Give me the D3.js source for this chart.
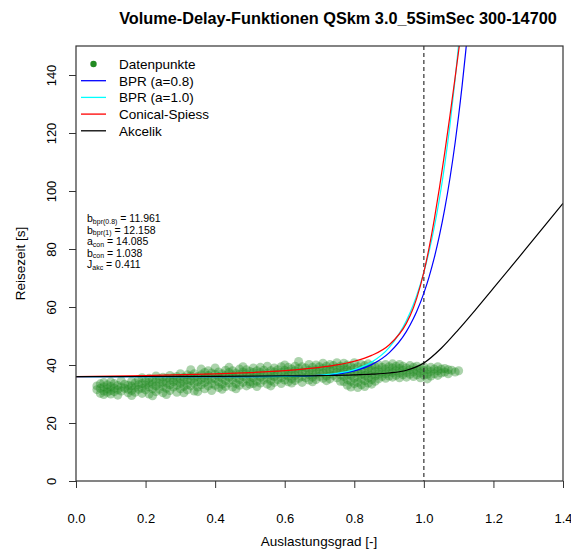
<!DOCTYPE html>
<html>
<head>
<meta charset="utf-8">
<script src="https://cdn.jsdelivr.net/npm/d3@7"></script>
<style>
    body { margin: 0; background: #fff; }
    text { font-family: "Liberation Sans", Arial, sans-serif; }
</style>
</head>
<body>
<div id="vdf-chart"></div>
<script>
// curve values (travel time in s)
const curveX = [0, 0.2, 0.4, 0.5, 0.6, 0.7, 0.75, 0.8, 0.85, 0.9, 0.95, 0.97, 0.98, 1.0,
    1.015, 1.03, 1.045, 1.06, 1.075, 1.09, 1.10, 1.105, 1.11, 1.12, 1.125];
const bpr08Values = [36.0, 36.0, 36.0, 36.01, 36.06, 36.4, 36.92, 38.0, 40.12, 44.17, 51.59, 56.01, 58.62, 64.8,
    70.41, 77.01, 84.76, 93.82, 104.4, 116.73, 126.05, 131.07, 136.35, 147.71, 153.82];
const bpr10Values = [36.0, 36.0, 36.0, 36.01, 36.07, 36.47, 37.09, 38.39, 40.99, 46.0, 55.3, 60.86, 64.16, 72.0,
    79.14, 87.57, 97.48, 109.11, 122.73, 138.64, 150.7, 157.2, 164.0, 178.8, 186.7];
const conicalValues = [36.01, 36.35, 36.92, 37.37, 38.04, 39.15, 40.02, 41.3, 43.32, 46.91, 54.44, 59.77, 63.21, 72.0,
    80.37, 90.19, 101.23, 113.24, 125.98, 139.25, 148.33, 152.92, 157.5, 166.9, 171.6];

const akcelikX = [0, 0.2, 0.4, 0.6, 0.7, 0.8, 0.85, 0.9, 0.95, 1.0, 1.05, 1.1, 1.15, 1.2, 1.25, 1.3, 1.35, 1.4];
const akcelikValues = [36.0, 36.04, 36.1, 36.22, 36.35, 36.58, 36.82, 37.24, 38.19, 40.7, 45.77, 52.29, 59.29,
    66.47, 73.73, 81.04, 88.37, 95.72];

// measured points, one column per load degree
const cloudX = [0.06, 0.07, 0.08, 0.09, 0.10, 0.11, 0.12, 0.13, 0.14, 0.15, 0.16, 0.17, 0.18, 0.19, 0.20,
    0.21, 0.22, 0.23, 0.24, 0.25, 0.26, 0.27, 0.28, 0.29, 0.30, 0.31, 0.32, 0.33, 0.34, 0.35, 0.36, 0.37,
    0.38, 0.39, 0.40, 0.41, 0.42, 0.43, 0.44, 0.45, 0.46, 0.47, 0.48, 0.49, 0.50, 0.51, 0.52, 0.53, 0.54,
    0.55, 0.56, 0.57, 0.58, 0.59, 0.60, 0.61, 0.62, 0.63, 0.64, 0.65, 0.66, 0.67, 0.68, 0.69, 0.70, 0.71,
    0.72, 0.73, 0.74, 0.75, 0.76, 0.77, 0.78, 0.79, 0.80, 0.81, 0.82, 0.83, 0.84, 0.85, 0.86, 0.87, 0.88,
    0.89, 0.90, 0.91, 0.92, 0.93, 0.94, 0.95, 0.96, 0.97, 0.98, 0.99, 1.00, 1.01, 1.02, 1.03, 1.04, 1.05,
    1.06, 1.07, 1.08, 1.09, 1.10];
const cloudY = [
    [31.5, 32.8], [30.2, 32.0, 33.5], [31.0, 32.5, 34.0, 29.8], [30.6, 31.8, 33.2], [31.2, 32.6, 34.2, 30.0],
    [30.8, 32.0, 33.6], [31.5, 32.9, 29.6], [31.0, 32.4, 34.6], [32.0, 33.4], [30.4, 31.6, 33.0],
    [31.2, 32.8, 34.4, 29.5], [30.6, 32.2, 33.8], [31.6, 33.2, 35.0], [30.2, 32.0, 33.6, 35.6], [31.4, 33.0, 34.4],
    [30.0, 32.4, 34.0, 35.4], [31.8, 33.4, 35.0, 29.4], [30.8, 32.8, 34.4, 36.2], [31.6, 33.6, 35.2],
    [30.4, 32.6, 34.2, 35.8], [32.0, 33.8, 35.4, 29.8], [31.2, 33.2, 34.8, 36.4], [32.4, 34.2, 35.6],
    [30.6, 33.0, 34.6, 36.0], [31.8, 33.6, 35.2, 37.0], [32.6, 34.4, 35.8, 30.4], [31.4, 33.2, 35.0, 36.6],
    [32.8, 34.6, 36.2, 38.4], [31.0, 33.8, 35.4, 37.0], [32.4, 34.2, 36.0, 30.8], [33.2, 35.0, 36.6, 38.6],
    [31.8, 34.0, 35.6, 37.4], [32.8, 34.8, 36.4, 38.0], [31.2, 33.6, 35.4, 37.2], [33.0, 35.2, 36.8, 39.0],
    [32.2, 34.2, 36.0, 37.6], [33.4, 35.4, 37.0, 31.6], [32.6, 34.6, 36.4, 38.2], [33.8, 35.8, 37.4, 39.2],
    [32.4, 34.8, 36.6, 38.0], [33.6, 35.6, 37.2, 31.8], [33.0, 35.0, 36.8, 38.6], [34.0, 36.0, 37.6, 39.4],
    [32.8, 35.2, 37.0, 38.4], [34.2, 36.2, 37.8, 33.4], [33.6, 35.6, 37.4, 39.0], [34.4, 36.4, 38.0, 32.6],
    [33.8, 35.8, 37.4, 39.2], [34.8, 36.6, 38.2], [33.4, 35.4, 37.2, 39.6], [34.6, 36.4, 38.0, 32.8],
    [34.0, 36.0, 37.6, 39.0], [35.0, 36.8, 38.4], [33.6, 35.6, 37.4, 39.4], [34.8, 36.6, 38.2, 40.0],
    [34.2, 36.2, 37.8, 39.2], [35.2, 37.0, 38.6, 33.8], [34.6, 36.4, 38.0, 39.6], [35.4, 37.2, 38.8, 41.2],
    [34.0, 36.0, 37.6, 39.4], [35.6, 37.4, 39.0], [34.8, 36.6, 38.2, 40.2], [35.8, 37.6, 39.2, 34.2],
    [35.0, 36.8, 38.4, 40.0], [36.0, 37.8, 39.4], [35.4, 37.2, 38.8, 40.6], [36.2, 38.0, 39.6, 34.6],
    [35.2, 37.0, 38.6, 40.2], [36.4, 38.2, 39.8], [35.6, 37.4, 39.0, 40.8], [36.6, 38.2, 39.6, 34.4],
    [34.2, 36.0, 37.6, 39.2, 40.6], [33.0, 35.0, 36.8, 38.4, 40.0], [32.4, 34.4, 36.4, 38.0, 39.6],
    [33.6, 35.4, 37.2, 38.8, 40.8], [32.2, 34.0, 36.0, 37.6, 39.4], [33.2, 35.2, 36.8, 38.4, 40.2],
    [32.6, 34.6, 36.4, 38.0, 39.8], [33.8, 35.6, 37.2, 38.8, 40.4], [33.4, 35.0, 36.6, 38.2, 39.8],
    [34.4, 36.2, 37.8, 39.4], [35.2, 36.8, 38.4, 40.0], [36.0, 37.6, 39.2], [35.4, 37.0, 38.6, 40.2],
    [36.2, 37.8, 39.4], [35.8, 37.4, 39.0, 40.4], [36.4, 38.0, 39.6], [35.6, 37.2, 38.8, 40.2],
    [36.6, 38.2, 39.6], [35.8, 37.4, 39.0], [36.8, 38.4, 39.8], [36.0, 37.6, 39.2], [36.6, 38.2, 39.6],
    [35.6, 37.2, 38.8], [36.4, 38.0, 39.4], [36.8, 38.4, 35.2], [36.2, 37.8, 39.2], [37.0, 38.6],
    [36.4, 38.0, 39.4], [37.2, 38.6], [37.6, 38.8], [37.0, 38.4], [38.2], [37.6], [38.0]
];

const xTicks = [0, 0.2, 0.4, 0.6, 0.8, 1.0, 1.2, 1.4];
const yTicks = [0, 20, 40, 60, 80, 100, 120, 140];

const legendLabels = ["Datenpunkte", "BPR (a=0.8)", "BPR (a=1.0)", "Conical-Spiess", "Akcelik"];
const legendColors = ["#228b22", "#0000ff", "#00ffff", "#ff0000", "#000000"];

const annotSymbols = ["b", "b", "a", "b", "J"];
const annotSubs = ["bpr(0.8)", "bpr(1)", "con", "con", "akc"];
const annotValues = ["11.961", "12.158", "14.085", "1.038", "0.411"];

const width = 571;
const height = 550;
const plot = { left: 76, right: 563, top: 46, bottom: 481 };

const svg = d3.select("#vdf-chart")
    .append("svg")
        .attr("width", width)
        .attr("height", height);

const x = d3.scaleLinear().domain([0, 1.4]).range([plot.left, plot.right]);
const y = d3.scaleLinear().domain([0, 150]).range([plot.bottom, plot.top]);

svg.append("clipPath")
        .attr("id", "plot-clip")
    .append("rect")
        .attr("x", plot.left)
        .attr("y", plot.top)
        .attr("width", plot.right - plot.left)
        .attr("height", plot.bottom - plot.top);

// scatter cloud
const points = cloudX.flatMap((cx, i) => cloudY[i].map(v => ({ x: cx, y: v })));
svg.append("g")
        .attr("clip-path", "url(#plot-clip)")
    .selectAll("circle")
    .data(points)
    .join("circle")
        .attr("cx", d => x(d.x))
        .attr("cy", d => y(d.y))
        .attr("r", 4.5)
        .attr("fill", "#228b22")
        .attr("fill-opacity", 0.38);

// reference line at saturation
svg.append("line")
    .attr("x1", x(1)).attr("x2", x(1))
    .attr("y1", plot.top).attr("y2", plot.bottom)
    .attr("stroke", "#333")
    .attr("stroke-width", 1.2)
    .attr("stroke-dasharray", "4,3");

// model curves
const line = d3.line()
    .x(d => x(d[0]))
    .y(d => y(d[1]))
    .curve(d3.curveMonotoneX);

const curves = [
    { xs: curveX, ys: bpr08Values, color: legendColors[1] },
    { xs: curveX, ys: bpr10Values, color: legendColors[2] },
    { xs: curveX, ys: conicalValues, color: legendColors[3] },
    { xs: akcelikX, ys: akcelikValues, color: legendColors[4] }
];

svg.append("g")
        .attr("clip-path", "url(#plot-clip)")
    .selectAll("path")
    .data(curves)
    .join("path")
        .attr("d", c => line(c.xs.map((v, i) => [v, c.ys[i]])))
        .attr("fill", "none")
        .attr("stroke", c => c.color)
        .attr("stroke-width", 1.2);

// axes
const xAxis = svg.append("g")
    .attr("transform", `translate(0, ${plot.bottom})`)
    .call(d3.axisBottom(x).tickValues(xTicks).tickSize(7).tickPadding(26).tickFormat(d3.format(".1f")));

const yAxis = svg.append("g")
    .attr("transform", `translate(${plot.left}, 0)`)
    .call(d3.axisLeft(y).tickValues(yTicks).tickSize(7).tickFormat(d3.format("d")));

[xAxis, yAxis].forEach(axis => {
    axis.select(".domain").remove();
    axis.selectAll("line").attr("stroke", "#333");
    axis.selectAll("text")
        .attr("font-size", 13)
        .attr("fill", "#000")
        .style("font-family", "Liberation Sans, Arial, sans-serif");
});

// R style: y labels parallel to the axis
yAxis.selectAll("text")
    .attr("x", 0)
    .attr("y", -20)
    .attr("dy", 0)
    .attr("text-anchor", "middle")
    .attr("transform", "rotate(-90)");

svg.append("rect")
    .attr("x", plot.left)
    .attr("y", plot.top)
    .attr("width", plot.right - plot.left)
    .attr("height", plot.bottom - plot.top)
    .attr("fill", "none")
    .attr("stroke", "#333")
    .attr("stroke-width", 1.2);

// titles
svg.append("text")
    .attr("x", 338)
    .attr("y", 24)
    .attr("text-anchor", "middle")
    .attr("font-weight", "bold")
    .attr("font-size", 16.3)
    .text("Volume-Delay-Funktionen QSkm 3.0_5SimSec 300-14700");

svg.append("text")
    .attr("x", 319)
    .attr("y", 546)
    .attr("text-anchor", "middle")
    .attr("font-size", 13.5)
    .text("Auslastungsgrad [-]");

svg.append("text")
    .attr("transform", `translate(25, ${(plot.top + plot.bottom) / 2}) rotate(-90)`)
    .attr("text-anchor", "middle")
    .attr("font-size", 13.5)
    .text("Reisezeit [s]");

// legend, no frame
const legend = svg.append("g");
const rowHeight = 16.7;
legendLabels.forEach((label, i) => {
    const ly = 64 + i * rowHeight;
    if (i === 0) {
        legend.append("circle")
            .attr("cx", 93.5).attr("cy", ly)
            .attr("r", 3.2)
            .attr("fill", legendColors[i]);
    } else {
        legend.append("line")
            .attr("x1", 81).attr("x2", 106)
            .attr("y1", ly).attr("y2", ly)
            .attr("stroke", legendColors[i])
            .attr("stroke-width", 1.3);
    }
    legend.append("text")
        .attr("x", 119)
        .attr("y", ly + 5)
        .attr("font-size", 13.5)
        .text(label);
});

// fitted parameters
const annot = svg.append("g");
annotSymbols.forEach((sym, i) => {
    const t = annot.append("text")
        .attr("x", 87)
        .attr("y", 222 + i * 11.5)
        .attr("font-size", 10.5);
    t.append("tspan").text(sym);
    t.append("tspan")
        .attr("font-size", 7)
        .attr("dy", 1.5)
        .text(annotSubs[i]);
    t.append("tspan")
        .attr("dy", -1.5)
        .text(" = " + annotValues[i]);
});
</script>
</body>
</html>
